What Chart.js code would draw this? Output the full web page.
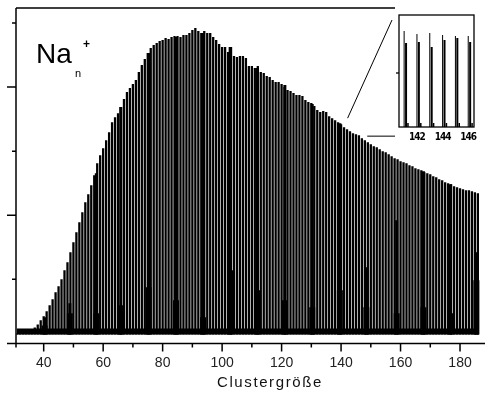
<!DOCTYPE html>
<html>
<head>
<meta charset="utf-8">
<script src="https://cdn.jsdelivr.net/npm/chart.js@4.4.1/dist/chart.umd.min.js"></script>
<style>
  html, body { margin: 0; padding: 0; background: #fff; }
  #wrap { position: relative; width: 485px; height: 393px; }
  #main { position: absolute; left: 0; top: 0; }
  #inset { position: absolute; left: 388px; top: 8px; }
</style>
</head>
<body>
<div id="wrap">
  <canvas id="main" width="485" height="393"></canvas>
  <canvas id="inset" width="97" height="140"></canvas>
</div>
<script>
// Na_n+ mass spectrum, intensity in arbitrary units (one peak per cluster size)
const firstCluster = 31;
const intensity = [
  10, 11, 12, 12, 13, 14, 16, 19, 23, 27,
  32, 38, 44, 51, 57, 64, 73, 81, 91, 101,
  111, 121, 131, 141, 149, 158, 168, 180, 188, 195,
  203, 211, 221, 226, 230, 236, 244, 251, 255, 259,
  263, 271, 278, 284, 290, 295, 298, 300, 302, 303,
  305, 304, 306, 307, 307, 306, 308, 308, 310, 313,
  315, 312, 310, 312, 310, 310, 306, 303, 299, 296,
  296, 291, 296, 287, 286, 287, 287, 285, 277, 277,
  275, 277, 271, 270, 267, 266, 263, 261, 261, 259,
  256, 253, 252, 250, 248, 248, 247, 243, 241, 240,
  237, 233, 231, 232, 231, 227, 225, 223, 221, 219,
  216, 214, 212, 210, 209, 208, 205, 203, 201, 199,
  197, 196, 194, 192, 191, 189, 187, 185, 184, 182,
  181, 180, 178, 177, 175, 174, 173, 171, 170, 169,
  167, 166, 164, 163, 161, 160, 159, 157, 156, 155,
  154, 153, 153, 152, 151, 150
];
const clusterSizes = intensity.map((_, i) => firstCluster + i);
const peakBase = 9;

// dark merged columns between groups of peaks
const wedgeSizes = [40.3, 48.8, 57.7, 65.9, 75.3, 84.5, 93.6, 102.7, 111.9, 121.1, 130.3, 139.6, 148.5, 158.7, 167.7, 176.8, 185.5];
const wedgeTop   = [26, 40, 170, 236, 290, 306, 310, 296, 275, 258, 239, 220, 76, 123, 172, 159, 91];
const wedgeFoot  = [18, 30, 30, 38, 56, 43, 26, 73, 53, 43, 36, 53, 36, 30, 36, 30, 63];

// signal between the peaks
const valleySizes = [30.9, 186.3];
const valleyLevel = [15, 15];

// axes
const xTickLabels = [40, 60, 80, 100, 120, 140, 160, 180];
const xMinorTicks = [50, 70, 90, 110, 130, 150, 170];
const yMajorTicks = [128, 256];
const yMinorTicks = [64, 192, 320];

// inset: zoom on n = 141..146
const insetSizes    = [141, 142, 143, 144, 145, 146];
const insetPeak     = [96, 93, 94, 92, 91, 91];
const insetShoulderX = [141.15, 142.15, 143.15, 144.15, 145.15, 146.15];
const insetShoulder = [84, 85, 80, 87, 89, 85];
const insetBumpX    = [141.3, 142.3, 143.3, 144.3, 145.3, 146.3];
const insetBump     = [4, 4, 4, 4, 4, 4];
const insetTickLabels = [142, 144, 146];

const FONT = "'Liberation Sans', Arial, sans-serif";

function pts(xs, ys) {
  return xs.map((x, i) => ({ x: x, y: ys[i] }));
}

const mainDecor = {
  id: 'mainDecor',
  afterDraw(chart) {
    const ctx = chart.ctx;
    const { left, top, right, bottom } = chart.chartArea;
    const xs = chart.scales.x, ys = chart.scales.y;
    ctx.save();
    ctx.strokeStyle = '#000';
    ctx.lineWidth = 1.5;
    ctx.beginPath();
    ctx.moveTo(left, top); ctx.lineTo(395, top);
    ctx.moveTo(left, top); ctx.lineTo(left, bottom + 4);
    ctx.moveTo(left - 9, bottom); ctx.lineTo(right, bottom);
    yMajorTicks.forEach(v => { const y = ys.getPixelForValue(v); ctx.moveTo(left - 9, y); ctx.lineTo(left, y); });
    yMinorTicks.forEach(v => { const y = ys.getPixelForValue(v); ctx.moveTo(left - 4, y); ctx.lineTo(left, y); });
    xTickLabels.forEach(v => { const x = xs.getPixelForValue(v); ctx.moveTo(x, bottom); ctx.lineTo(x, bottom + 8); });
    xMinorTicks.forEach(v => { const x = xs.getPixelForValue(v); ctx.moveTo(x, bottom); ctx.lineTo(x, bottom + 4); });
    ctx.stroke();

    // connector lines to the inset
    ctx.lineWidth = 1;
    ctx.beginPath();
    ctx.moveTo(xs.getPixelForValue(142.2), ys.getPixelForValue(225));
    ctx.lineTo(392, 20);
    ctx.moveTo(xs.getPixelForValue(148.8), ys.getPixelForValue(207));
    ctx.lineTo(395, ys.getPixelForValue(207));
    ctx.stroke();

    // label Na_n^+
    ctx.fillStyle = '#000';
    ctx.textBaseline = 'alphabetic';
    ctx.textAlign = 'left';
    ctx.font = '28px ' + FONT;
    ctx.fillText('Na', 36, 63);
    ctx.font = '11px ' + FONT;
    ctx.fillText('n', 75, 77);
    ctx.font = 'bold 12px ' + FONT;
    ctx.fillText('+', 83, 48);

    // axis title
    ctx.font = '15px ' + FONT;
    ctx.letterSpacing = '1.6px';
    ctx.fillStyle = '#111';
    ctx.fillText('Clustergröße', 217, 387);
    ctx.restore();
  }
};

new Chart(document.getElementById('main').getContext('2d'), {
  type: 'bar',
  data: {
    datasets: [
      {
        label: 'peaks',
        data: pts(clusterSizes, intensity),
        backgroundColor: '#000',
        barThickness: 2.3,
        base: peakBase,
        grouped: false,
        inflateAmount: 0,
        borderWidth: 0,
        order: 3
      },
      {
        label: 'wedge',
        data: pts(wedgeSizes, wedgeTop),
        backgroundColor: '#000',
        barThickness: 3,
        base: peakBase,
        grouped: false,
        inflateAmount: 0,
        borderWidth: 0,
        order: 2
      },
      {
        label: 'wedge foot',
        data: pts(wedgeSizes, wedgeFoot),
        backgroundColor: '#000',
        barThickness: 6,
        base: peakBase,
        grouped: false,
        inflateAmount: 0,
        borderWidth: 0,
        order: 1
      },
      {
        type: 'line',
        label: 'valley',
        data: pts(valleySizes, valleyLevel),
        borderWidth: 0,
        borderColor: '#000',
        backgroundColor: '#000',
        pointRadius: 0,
        fill: { value: peakBase },
        order: 0
      }
    ]
  },
  options: {
    responsive: false,
    animation: false,
    events: [],
    layout: { padding: { left: 16, top: 8, right: 0, bottom: 9.6 } },
    plugins: { legend: { display: false }, tooltip: { enabled: false } },
    scales: {
      x: {
        type: 'linear',
        min: 30.69,
        max: 188.4,
        offset: false,
        grid: { display: false, drawTicks: false },
        border: { display: false },
        afterBuildTicks: (axis) => { axis.ticks = xTickLabels.map(v => ({ value: v })); },
        ticks: {
          padding: 11.6,
          maxRotation: 0,
          autoSkip: false,
          color: '#222',
          font: { family: FONT, size: 14 }
        }
      },
      y: {
        display: false,
        min: 0,
        max: 335
      }
    }
  },
  plugins: [mainDecor]
});

const insetDecor = {
  id: 'insetDecor',
  afterDraw(chart) {
    const ctx = chart.ctx;
    const { left, top, right, bottom } = chart.chartArea;
    const xs = chart.scales.x, ys = chart.scales.y;
    ctx.save();
    ctx.strokeStyle = '#000';
    ctx.lineWidth = 1.3;
    ctx.strokeRect(left, top, right - left, bottom - top);
    ctx.beginPath();
    const y = ys.getPixelForValue(54);
    ctx.moveTo(left - 3, y); ctx.lineTo(left, y);
    ctx.stroke();
    // tick labels of the zoomed axis
    ctx.fillStyle = '#000';
    ctx.font = "bold 10px 'Liberation Sans Narrow', 'DejaVu Sans Condensed', " + FONT;
    ctx.letterSpacing = '-1px';
    ctx.textAlign = 'center';
    ctx.textBaseline = 'middle';
    insetTickLabels.forEach(v => ctx.fillText(String(v), xs.getPixelForValue(v), bottom + 10));
    ctx.restore();
  }
};

new Chart(document.getElementById('inset').getContext('2d'), {
  type: 'bar',
  data: {
    datasets: [
      {
        label: 'peak',
        data: pts(insetSizes, insetPeak),
        backgroundColor: '#000',
        barThickness: 1,
        grouped: false,
        inflateAmount: 0,
        borderWidth: 0
      },
      {
        label: 'shoulder',
        data: pts(insetShoulderX, insetShoulder),
        backgroundColor: '#000',
        barThickness: 2,
        grouped: false,
        inflateAmount: 0,
        borderWidth: 0
      },
      {
        label: 'bump',
        data: pts(insetBumpX, insetBump),
        backgroundColor: '#000',
        barThickness: 1.5,
        grouped: false,
        inflateAmount: 0,
        borderWidth: 0
      }
    ]
  },
  options: {
    responsive: false,
    animation: false,
    events: [],
    layout: { padding: { left: 11, top: 7, right: 11, bottom: 21 } },
    plugins: { legend: { display: false }, tooltip: { enabled: false } },
    scales: {
      x: {
        type: 'linear',
        display: false,
        min: 140.6,
        max: 146.45,
        offset: false
      },
      y: { display: false, min: 0, max: 112 }
    }
  },
  plugins: [insetDecor]
});
</script>
</body>
</html>
